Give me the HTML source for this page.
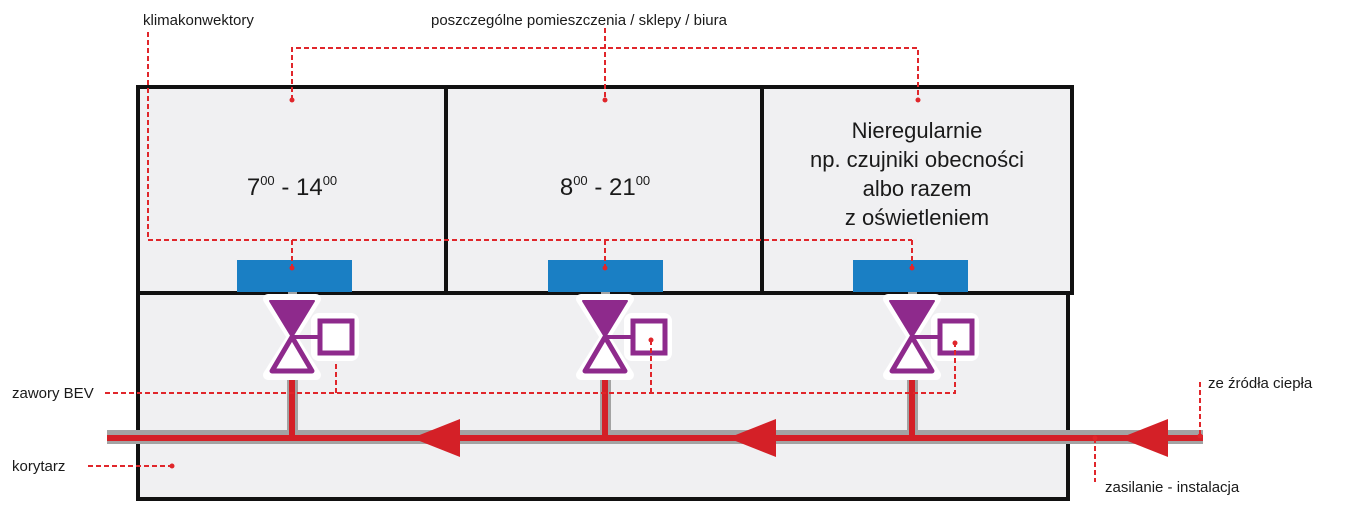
<!DOCTYPE html>
<html><head><style>
body{margin:0;background:#fff;width:1345px;height:512px;overflow:hidden}
svg text{font-family:"Liberation Sans","DejaVu Sans",sans-serif;fill:#1a1a1a}
</style></head><body>
<svg width="1345" height="512" viewBox="0 0 1345 512" xmlns="http://www.w3.org/2000/svg">
<!-- rooms -->
<rect x="138" y="87" width="308" height="206" fill="#f0f0f2" stroke="#111" stroke-width="4"/>
<rect x="446" y="87" width="316" height="206" fill="#f0f0f2" stroke="#111" stroke-width="4"/>
<rect x="762" y="87" width="310" height="206" fill="#f0f0f2" stroke="#111" stroke-width="4"/>
<rect x="138" y="293" width="930" height="206" fill="#f0f0f2" stroke="#111" stroke-width="4"/>
<!-- room texts -->
<text x="292" y="195" font-size="24" text-anchor="middle">7<tspan font-size="13" dy="-10">00</tspan><tspan dy="10"> - 14</tspan><tspan font-size="13" dy="-10">00</tspan></text>
<text x="605" y="195" font-size="24" text-anchor="middle">8<tspan font-size="13" dy="-10">00</tspan><tspan dy="10"> - 21</tspan><tspan font-size="13" dy="-10">00</tspan></text>
<g font-size="22" text-anchor="middle">
<text x="917" y="138">Nieregularnie</text>
<text x="917" y="167">np. czujniki obecności</text>
<text x="917" y="196">albo razem</text>
<text x="917" y="225">z oświetleniem</text>
</g>
<!-- blue units -->
<rect x="237" y="260" width="115" height="32" fill="#1a7fc4"/>
<rect x="548" y="260" width="115" height="32" fill="#1a7fc4"/>
<rect x="853" y="260" width="115" height="32" fill="#1a7fc4"/>
<!-- pipe -->
<rect x="107" y="430" width="1096" height="14" fill="#a3a3a3"/>
<rect x="107" y="435" width="1096" height="6" fill="#d42027"/>
<g id="risers">
<rect x="287" y="375" width="11" height="60" fill="#a3a3a3"/><rect x="289" y="375" width="6" height="63" fill="#d42027"/>
<rect x="600" y="375" width="11" height="60" fill="#a3a3a3"/><rect x="602" y="375" width="6" height="63" fill="#d42027"/>
<rect x="907" y="375" width="11" height="60" fill="#a3a3a3"/><rect x="909" y="375" width="6" height="63" fill="#d42027"/>
<rect x="288" y="292" width="9" height="8" fill="#a3a3a3"/>
<rect x="601" y="292" width="9" height="8" fill="#a3a3a3"/>
<rect x="908" y="292" width="9" height="8" fill="#a3a3a3"/>
</g>
<!-- arrows -->
<polygon points="412,438 460,419 460,457" fill="#d42027"/>
<polygon points="728,438 776,419 776,457" fill="#d42027"/>
<polygon points="1120,438 1168,419 1168,457" fill="#d42027"/>
<!-- valves -->
<defs>
<g id="valve">
<path d="M-24,-39 L24,-39 L0,-1 L24,37 L-24,37 L0,-1 Z" fill="#fff" stroke="#fff" stroke-width="10" stroke-linejoin="round"/>
<rect x="24" y="-20" width="38" height="38" fill="#fff" stroke="#fff" stroke-width="10" rx="3"/>
<polygon points="-22,-37 22,-37 0,-1" fill="#8e2a8c" stroke="#8e2a8c" stroke-width="2" stroke-linejoin="round"/>
<polygon points="0,-1 20,33 -20,33" fill="#fff" stroke="#8e2a8c" stroke-width="5" stroke-linejoin="round"/>
<line x1="0" y1="-1" x2="28" y2="-1" stroke="#8e2a8c" stroke-width="4"/>
<rect x="28" y="-17" width="32" height="32" fill="#fff" stroke="#8e2a8c" stroke-width="5"/>
</g>
</defs>
<use href="#valve" x="292" y="338"/>
<use href="#valve" x="605" y="338"/>
<use href="#valve" x="912" y="338"/>
<!-- dashed callouts -->
<g fill="none" stroke="#e0262b" stroke-width="2" stroke-dasharray="5,3">
<path d="M148,32 V240 H912"/>
<path d="M292,240 V268 M605,240 V268 M912,240 V268"/>
<path d="M292,100 V48 H918 V100 M605,28 V100"/>
<path d="M105,393 H955 V343 M336,393 V362 M651,393 V340"/>
<path d="M88,466 H172"/>
<path d="M1200,382 V436"/>
<path d="M1095,438 V482"/>
</g>
<g fill="#e0262b">
<circle cx="292" cy="100" r="2.5"/><circle cx="605" cy="100" r="2.5"/><circle cx="918" cy="100" r="2.5"/>
<circle cx="292" cy="268" r="2.5"/><circle cx="605" cy="268" r="2.5"/><circle cx="912" cy="268" r="2.5"/>
<circle cx="651" cy="340" r="2.5"/><circle cx="955" cy="343" r="2.5"/>
<circle cx="172" cy="466" r="2.5"/><circle cx="1200" cy="436" r="2.5"/><circle cx="1095" cy="438" r="2.5"/>
</g>
<!-- labels -->
<g font-size="15">
<text x="143" y="25">klimakonwektory</text>
<text x="431" y="25">poszczególne pomieszczenia / sklepy / biura</text>
<text x="12" y="398">zawory BEV</text>
<text x="12" y="471">korytarz</text>
<text x="1208" y="388">ze źródła ciepła</text>
<text x="1105" y="492">zasilanie - instalacja</text>
</g>
</svg>
</body></html>
